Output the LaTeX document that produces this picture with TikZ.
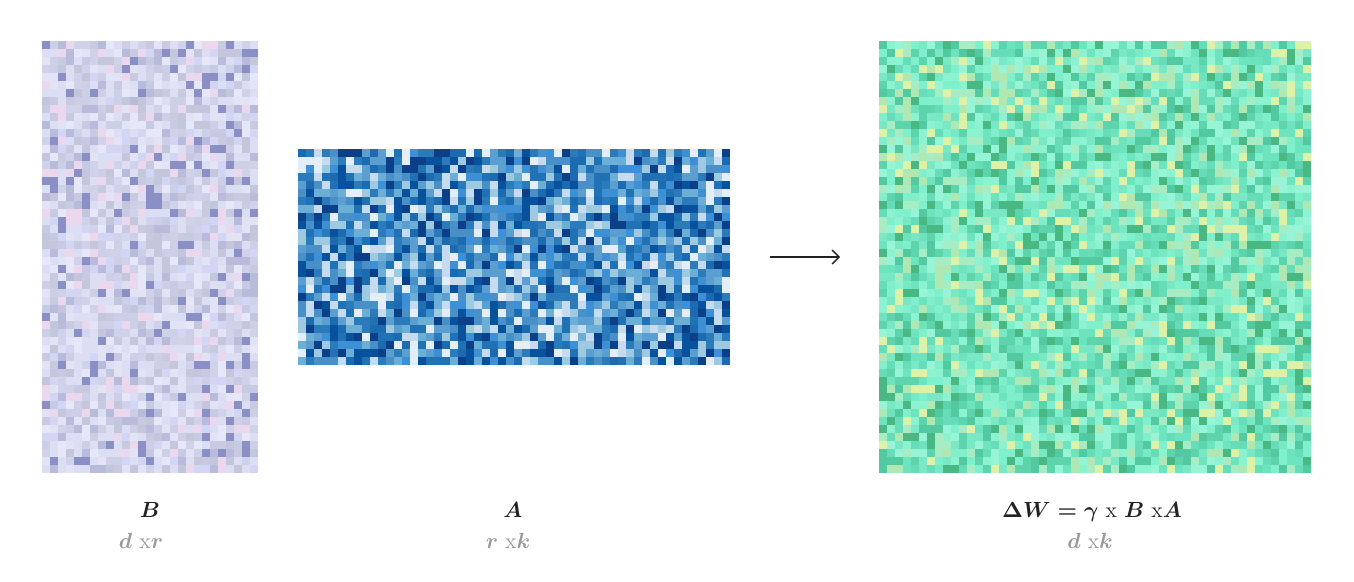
\documentclass[tikz,border=0pt]{standalone}
\usetikzlibrary{arrows.meta}
% B palette (light lavender / grey)
\definecolor{B1}{HTML}{DCDEF4}\definecolor{B2}{HTML}{CDCFE6}\definecolor{B3}{HTML}{C4C6DC}
\definecolor{B4}{HTML}{E6E8FA}\definecolor{B5}{HTML}{EBD8EE}\definecolor{B6}{HTML}{B8BCDA}
\definecolor{B7}{HTML}{8A90C6}\definecolor{B8}{HTML}{D2D6F4}\definecolor{B9}{HTML}{DCDEF4}
\definecolor{B10}{HTML}{C8CAE2}\definecolor{B11}{HTML}{E2E4F6}\definecolor{B12}{HTML}{D0D2EA}
% A palette (blues)
\definecolor{A1}{HTML}{0B3F88}\definecolor{A2}{HTML}{08519C}\definecolor{A3}{HTML}{1C6AB0}
\definecolor{A4}{HTML}{2B7BBA}\definecolor{A5}{HTML}{4A90C8}\definecolor{A6}{HTML}{6BAED6}
\definecolor{A7}{HTML}{9ECAE1}\definecolor{A8}{HTML}{C6DBEF}\definecolor{A9}{HTML}{E4EEF8}
\definecolor{A10}{HTML}{2171B5}\definecolor{A11}{HTML}{3D8FD6}\definecolor{A12}{HTML}{5A9FD0}
% W palette (greens)
\definecolor{W1}{HTML}{80F0CC}\definecolor{W2}{HTML}{66DDB8}\definecolor{W3}{HTML}{52C9A0}
\definecolor{W4}{HTML}{4AB883}\definecolor{W5}{HTML}{98F4D6}\definecolor{W6}{HTML}{DCF2A8}
\definecolor{W7}{HTML}{B0E8B4}\definecolor{W8}{HTML}{A8ECC4}\definecolor{W9}{HTML}{7AE8C4}
\definecolor{W10}{HTML}{5ED4AC}\definecolor{W11}{HTML}{8CF2D0}\definecolor{W12}{HTML}{6EE4BE}
\definecolor{txtdark}{HTML}{222222}
\definecolor{txtgrey}{HTML}{999999}
\newcommand\bmi[1]{{\boldmath$#1$}}
\tikzset{
  matbox/.style={inner sep=0pt, outer sep=0pt, draw=none},
  title/.style={text=txtdark, font=\fontsize{11}{13}\selectfont, inner sep=0pt, anchor=base},
  dims/.style={text=txtgrey, font=\fontsize{11}{13}\selectfont, inner sep=0pt, anchor=base},
  flow/.style={-{Straight Barb[length=3.5pt,width=7pt]}, line width=0.7pt, draw=txtdark},
}
\begin{document}
\begin{tikzpicture}[x=0.5pt,y=-0.5pt]
\useasboundingbox (0,0) rectangle (1354,582);
\fill[white] (0,0) rectangle (1354,582);
\pgfmathsetseed{4242}
% matrix B: 27 x 54 cells
\node[matbox, minimum width=108pt, minimum height=216pt, fill=B1] (B) at (150,257) {};
\foreach \i in {0,...,26} {
  \foreach \j in {0,...,53} {
    \pgfmathrandominteger{\k}{1}{12}
    \fill[B\k] (42+8*\i-0.2,41+8*\j-0.2) rectangle ++(8.4,8.4);
  }
}
% matrix A: 54 x 27 cells
\node[matbox, minimum width=216pt, minimum height=108pt, fill=A4] (A) at (514,257) {};
\foreach \i in {0,...,53} {
  \foreach \j in {0,...,26} {
    \pgfmathrandominteger{\k}{1}{12}
    \fill[A\k] (298+8*\i-0.2,149+8*\j-0.2) rectangle ++(8.4,8.4);
  }
}
% matrix Delta W: 54 x 54 cells
\node[matbox, minimum width=216pt, minimum height=216pt, fill=W1] (W) at (1095,257) {};
\foreach \i in {0,...,53} {
  \foreach \j in {0,...,53} {
    \pgfmathrandominteger{\k}{1}{12}
    \fill[W\k] (879+8*\i-0.2,41+8*\j-0.2) rectangle ++(8.4,8.4);
  }
}
% arrow
\draw[flow, shorten <=20pt, shorten >=19.5pt] (A.east) -- (W.west |- A.east);
% labels
\node[title] (Bt) at (150,517) {\bmi{B}};
\node[dims] (Bd) at (141,548) {\bmi{d} x\bmi{r}};
\node[title] (At) at (513,517) {\bmi{A}};
\node[dims] (Ad) at (508,548) {\bmi{r} x\bmi{k}};
\node[title] (Wt) at (1092,517) {\bmi{\Delta W = \gamma} x \bmi{B} x\bmi{A}};
\node[dims] (Wd) at (1090,548) {\bmi{d} x\bmi{k}};
\end{tikzpicture}
\end{document}
